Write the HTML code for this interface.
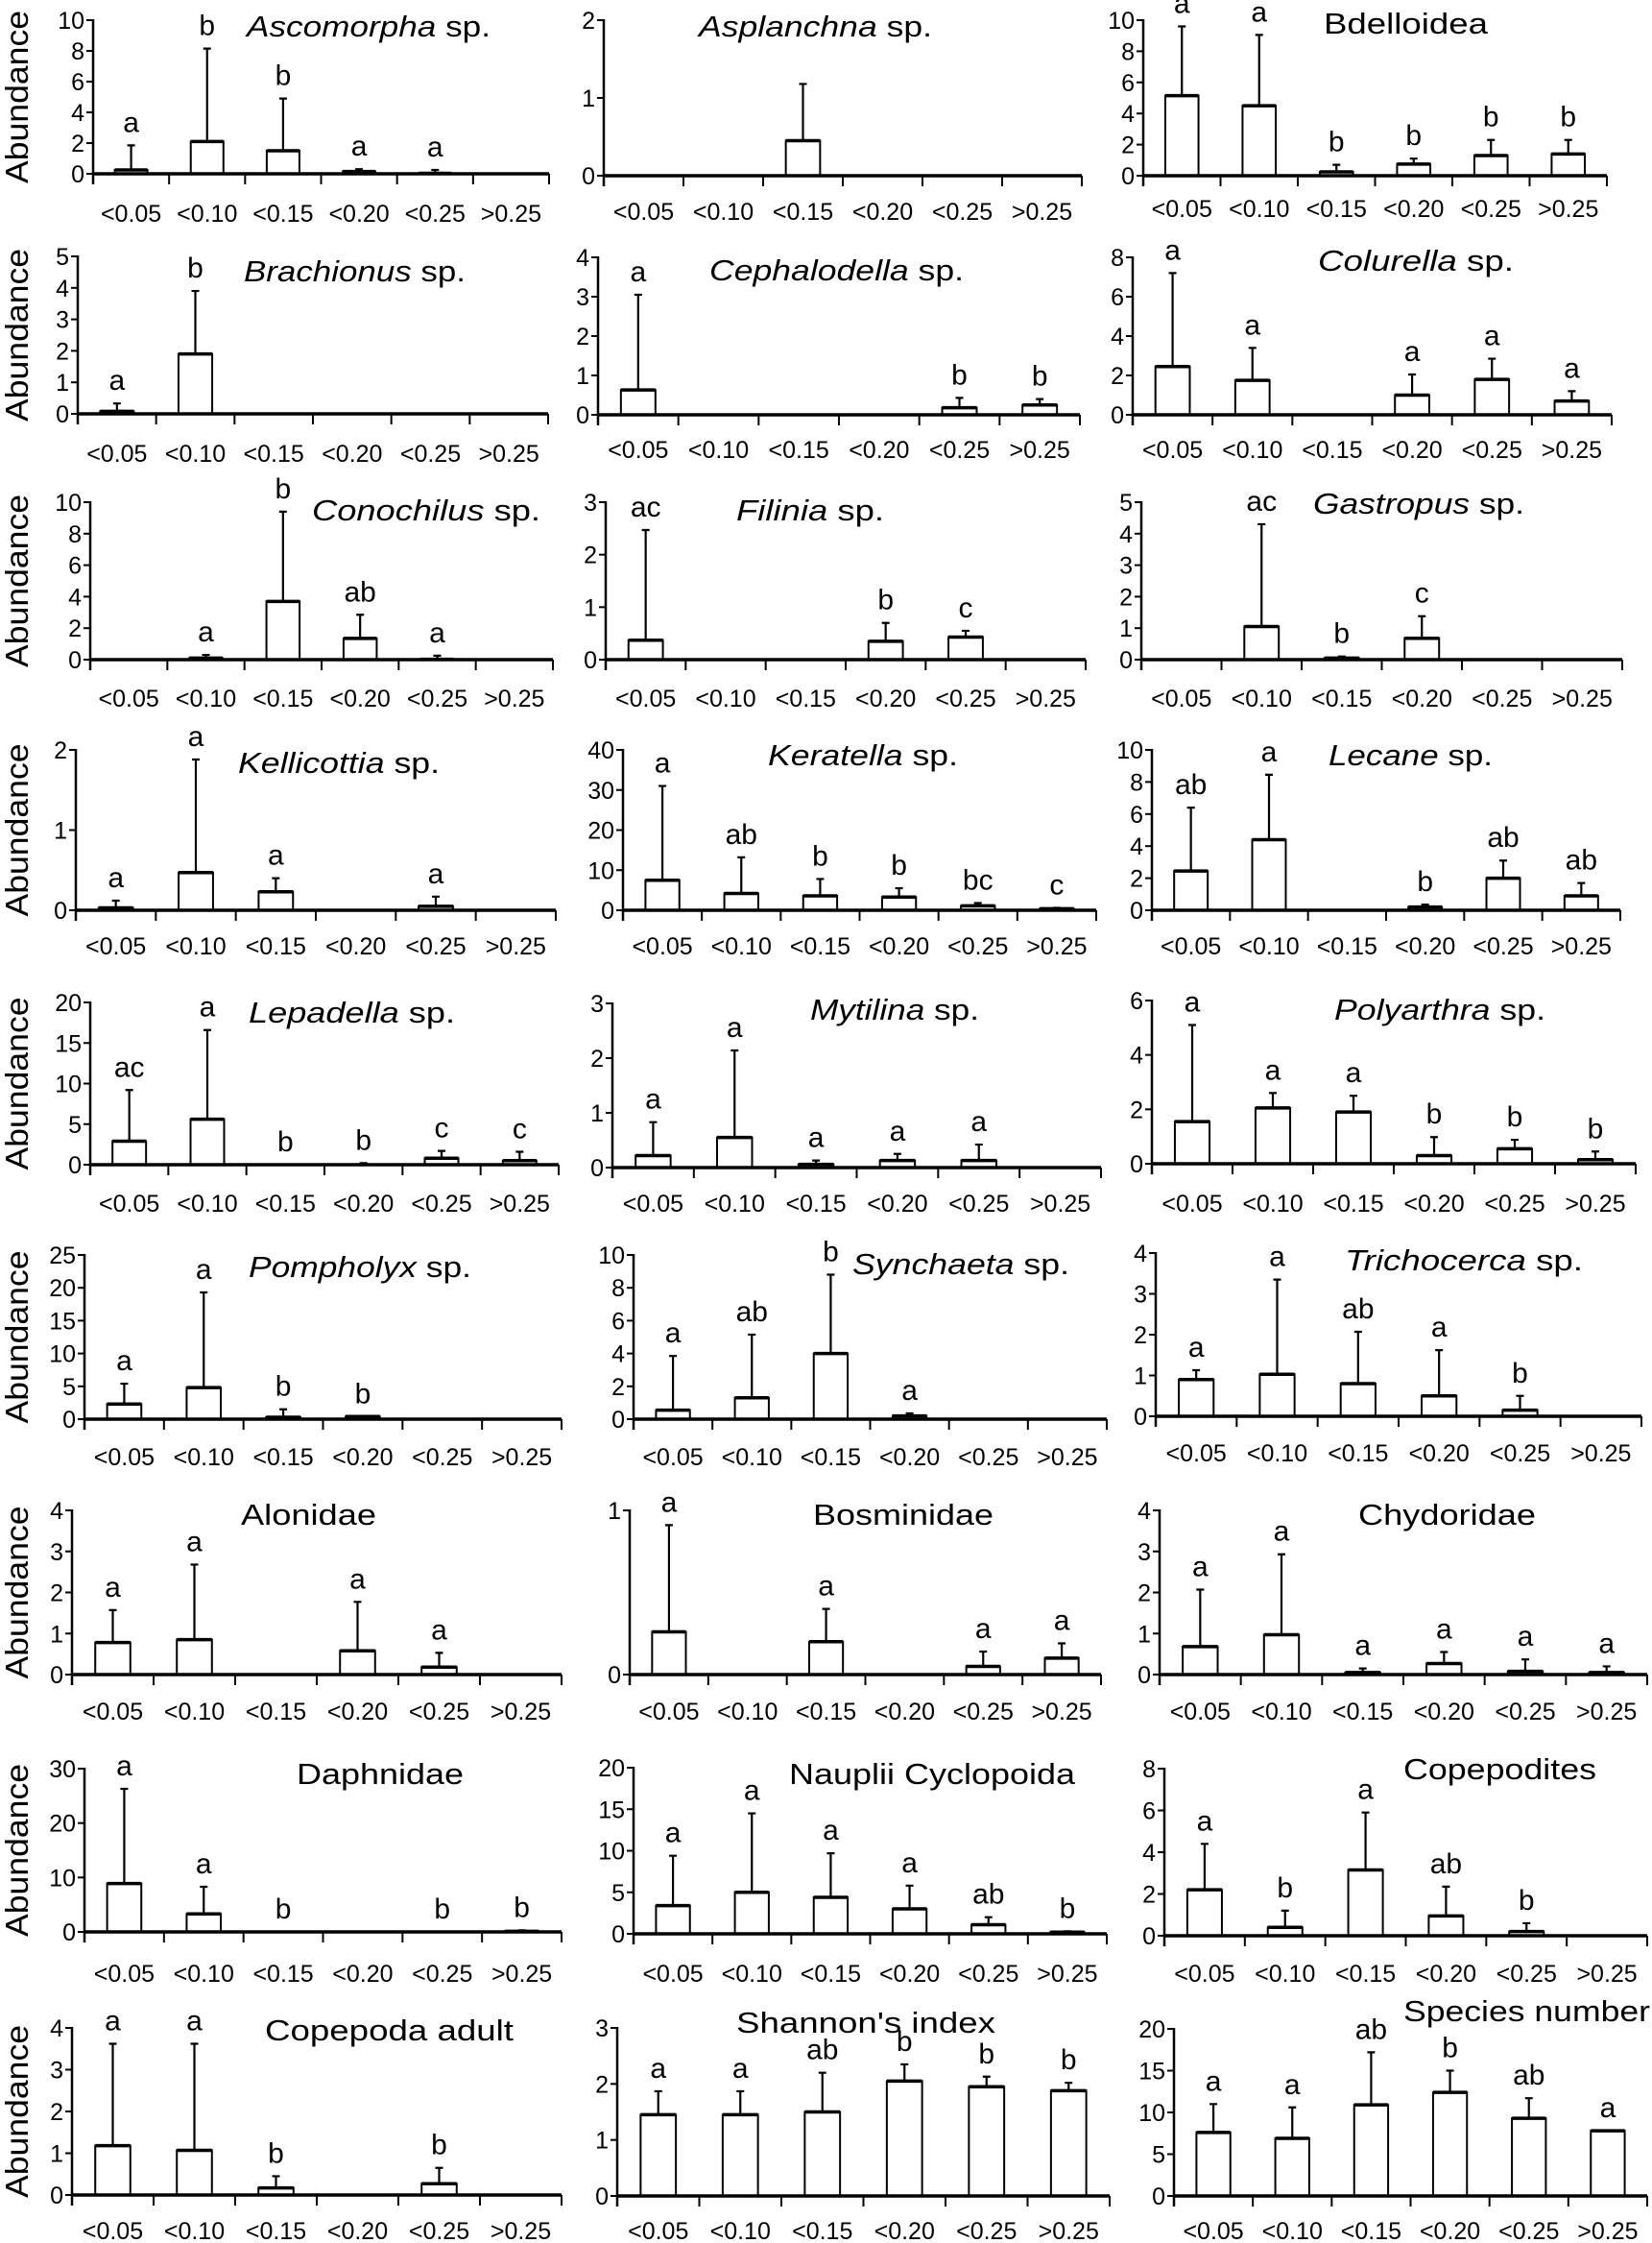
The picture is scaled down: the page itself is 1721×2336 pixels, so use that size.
<!DOCTYPE html>
<html><head><meta charset="utf-8"><style>
html,body{margin:0;padding:0;background:#fff;}
svg{display:block;}
text{font-family:"Liberation Sans",Arial,sans-serif;fill:#000;}
</style></head><body>
<svg id="fig" width="1721" height="2336" viewBox="0 0 1721 2336" xmlns="http://www.w3.org/2000/svg"></svg>
<script>
const categories = ["<0.05","<0.10","<0.15","<0.20","<0.25",">0.25"];
const panelTitles = [
 ["Ascomorpha"," sp."],["Asplanchna"," sp."],["","Bdelloidea"],
 ["Brachionus"," sp."],["Cephalodella"," sp."],["Colurella"," sp."],
 ["Conochilus"," sp."],["Filinia"," sp."],["Gastropus"," sp."],
 ["Kellicottia"," sp."],["Keratella"," sp."],["Lecane"," sp."],
 ["Lepadella"," sp."],["Mytilina"," sp."],["Polyarthra"," sp."],
 ["Pompholyx"," sp."],["Synchaeta"," sp."],["Trichocerca"," sp."],
 ["","Alonidae"],["","Bosminidae"],["","Chydoridae"],
 ["","Daphnidae"],["","Nauplii Cyclopoida"],["","Copepodites"],
 ["","Copepoda adult"],["","Shannon's index"],["","Species number"]
];
const yMax  = [10,2,10, 5,4,8, 10,3,5, 2,40,10, 20,3,6, 25,10,4, 4,1,4, 30,20,8, 4,3,20];
const yStep = [2,1,2, 1,1,2, 2,1,1, 1,10,2, 5,1,2, 5,2,1, 1,1,1, 10,5,2, 1,1,5];
const panelMeans = [
 [0.25,2.1,1.5,0.15,0.03,0],[0,0,0.45,0,0,0],[5.15,4.5,0.25,0.75,1.3,1.4],
 [0.08,1.9,0,0,0,0],[0.63,0,0,0,0.18,0.25],[2.45,1.75,0,1.0,1.8,0.7],
 [0,0.1,3.7,1.35,0.02,0],[0.37,0,0,0.35,0.43,0],[0,1.05,0.05,0.68,0,0],
 [0.03,0.47,0.23,0,0.05,0],[7.5,4.2,3.6,3.3,1.1,0.4],[2.45,4.4,0,0.2,2.0,0.9],
 [2.9,5.6,0,0,0.8,0.5],[0.22,0.55,0.06,0.13,0.13,0],[1.55,2.05,1.9,0.3,0.55,0.15],
 [2.3,4.8,0.3,0.4,0,0],[0.55,1.3,4.0,0.2,0,0],[0.9,1.03,0.8,0.5,0.15,0],
 [0.78,0.85,0,0.58,0.18,0],[0.26,0,0.2,0,0.05,0.1],[0.68,0.97,0.05,0.27,0.08,0.05],
 [8.9,3.3,0,0,0,0.1],[3.4,5.0,4.4,3.0,1.1,0.2],[2.2,0.4,3.15,0.95,0.2,0],
 [1.18,1.07,0.17,0,0.27,0],[1.45,1.45,1.5,2.05,1.95,1.88],[7.6,6.9,10.9,12.4,9.3,7.8]
];
const panelErrors = [
 [1.85,8.15,4.9,0.3,0.25,0],[0,0,1.18,0,0,0],[9.6,9.05,0.7,1.1,2.3,2.3],
 [0.33,3.9,0,0,0,0],[3.05,0,0,0,0.43,0.4],[7.2,3.4,0,2.05,2.85,1.2],
 [0,0.3,9.4,2.85,0.25,0],[2.47,0,0,0.7,0.55,0],[0,4.3,0.1,1.38,0,0],
 [0.12,1.88,0.4,0,0.17,0],[31,13.2,7.8,5.5,1.8,0.6],[6.4,8.45,0,0.35,3.1,1.7],
 [9.2,16.6,0,0.2,1.7,1.6],[0.83,2.14,0.13,0.25,0.42,0],[5.1,2.6,2.5,0.98,0.88,0.45],
 [5.4,19.3,1.5,0.4,0,0],[3.85,5.15,8.8,0.35,0,0],[1.13,3.35,2.07,1.62,0.5,0],
 [1.57,2.68,0,1.77,0.53,0],[0.91,0,0.4,0,0.14,0.19],[2.07,2.93,0.15,0.55,0.37,0.2],
 [26.3,8.3,0,0,0,0.3],[9.4,14.5,9.7,5.8,2.0,0.3],[4.4,1.2,5.9,2.35,0.6,0],
 [3.62,3.62,0.45,0,0.65,0],[1.87,1.87,2.2,2.35,2.13,2.02],[11,10.6,17.2,15,11.7,7.8]
];
const panelLetters = [
 ["a","b","b","a","a",""],["","","","","",""],["a","a","b","b","b","b"],
 ["a","b","","","",""],["a","","","","b","b"],["a","a","","a","a","a"],
 ["","a","b","ab","a",""],["ac","","","b","c",""],["","ac","b","c","",""],
 ["a","a","a","","a",""],["a","ab","b","b","bc","c"],["ab","a","","b","ab","ab"],
 ["ac","a","b","b","c","c"],["a","a","a","a","a",""],["a","a","a","b","b","b"],
 ["a","a","b","b","",""],["a","ab","b","a","",""],["a","a","ab","a","b",""],
 ["a","a","","a","a",""],["a","","a","","a","a"],["a","a","a","a","a","a"],
 ["a","a","b","","b","b"],["a","a","a","a","ab","b"],["a","b","a","ab","b",""],
 ["a","a","b","","b",""],["a","a","ab","b","b","b"],["a","a","ab","b","ab","a"]
];
// layout (pixel geometry): [axisX, rightX, topY, zeroY, labelBaseY, titleX0, titleX1, titleBaseY]
const layout = [
 [97,572,21,181,231,257,511,38],[629,1127,21,183,229,728,971,38],[1191,1674,21,183,226,1379,1550,35],
 [81,571,267,431,481,254,485,293],[623,1125,268,432,477,739,1004,292],[1180,1679,268,432,477,1373,1577,282],
 [94,576,523,687,736,325,563,542],[631,1131,523,687,736,767,921,542],[1189,1690,523,687,736,1368,1588,535],
 [79,579,781,948,994,248,458,805],[649,1142,781,948,994,800,998,797],[1200,1688,781,948,994,1384,1555,797],
 [94,582,1044,1213,1262,259,474,1065],[638,1147,1045,1216,1262,844,1020,1062],[1200,1704,1042,1212,1262,1390,1610,1062],
 [88,585,1307,1478,1526,259,491,1330],[660,1153,1307,1478,1526,888,1114,1327],[1204,1710,1305,1475,1522,1401,1649,1323],
 [75,585,1573,1744,1791,251,392,1588],[656,1147,1573,1744,1791,847,1035,1588],[1208,1716,1573,1744,1791,1415,1600,1588],
 [88,585,1842,2012,2064,309,483,1858],[660,1153,1841,2014,2064,822,1120,1858],[1213,1716,1842,2016,2064,1462,1663,1853],
 [75,585,2112,2286,2332,276,535,2125],[643,1156,2112,2287,2332,767,1037,2117],[1223,1716,2113,2287,2332,1462,1719,2105]
];
const NS="http://www.w3.org/2000/svg";
const svg=document.getElementById('fig');
function mk(tag,attrs,parent){const e=document.createElementNS(NS,tag);for(const k in attrs)e.setAttribute(k,attrs[k]);(parent||svg).appendChild(e);return e;}

for(let p=0;p<panelTitles.length;p++){
  const [ax,rx,top,zero,lab,tx0,tx1,ty]=layout[p];
  const cw=(rx-ax)/6, bw=cw*0.43;
  const g=mk('g',{});
  
  
  const sy=v=>zero-v/yMax[p]*(zero-top);
  const sx=i=>ax+(i+0.5)*cw;
  for(let v=0;v<=yMax[p]+1e-9;v+=yStep[p]){
    const y=sy(v);
    const t=mk('line',{x1:ax-7,x2:ax,y1:y,y2:y,stroke:'#000','stroke-width':2},g);
    
    
    const tl=mk('text',{x:ax-9,y:y+9,'font-size':25,'text-anchor':'end'},g);
    
    
    tl.textContent=String(Math.round(v*100)/100);
  }
  for(let i=0;i<6;i++){
    const m=panelMeans[p][i], e=panelErrors[p][i], cx=sx(i);
    if(m>0){
      const y=sy(m);
      const r=mk('rect',{x:cx-bw/2,y:y,width:bw,height:zero-y,fill:'#fff',stroke:'#000','stroke-width':2},g);
      
      
      mk('line',{x1:cx-bw/2,x2:cx+bw/2,y1:y,y2:y,stroke:'#000','stroke-width':3.5},g);
    }
    if(e>m){
      const el=mk('path',{d:`M${cx} ${sy(m)}V${sy(e)}M${cx-4} ${sy(e)}H${cx+4}`,stroke:'#000','stroke-width':2.2,fill:'none'},g);
      
      
    }
    const L=panelLetters[p][i];
    if(L){
      const lt=mk('text',{x:cx,y:sy(Math.max(e,m))-14,'font-size':30,'text-anchor':'middle'},g);
      
      
      lt.textContent=L;
    }
  }
  const ya=mk('line',{x1:ax,x2:ax,y1:top-1,y2:zero+11,stroke:'#000','stroke-width':2.5},g);
  
  
  const xa=mk('line',{x1:ax,x2:rx,y1:zero,y2:zero,stroke:'#000','stroke-width':3.5},g);
  
  
  for(let k=0;k<=6;k++){
    const x=ax+k*cw;
    mk('line',{x1:x,x2:x,y1:zero,y2:zero+11,stroke:'#000','stroke-width':2},g);
  }
  for(let i=0;i<6;i++){
    const xl=mk('text',{x:sx(i),y:lab,'font-size':25,'text-anchor':'middle'},g);
    
    
    xl.textContent=categories[i];
  }
  const tt=mk('text',{x:tx0,y:ty,'font-size':31,textLength:tx1-tx0,lengthAdjust:'spacingAndGlyphs'},g);
  
  
  if(panelTitles[p][0]){const it=mk('tspan',{'font-style':'italic'},tt);it.textContent=panelTitles[p][0];}
  const rt=mk('tspan',{},tt);rt.textContent=panelTitles[p][1];
  if(p%3===0){
    const cy=(top+zero)/2;
    const yt=mk('text',{x:0,y:0,'font-size':33,'text-anchor':'middle',textLength:180,lengthAdjust:'spacingAndGlyphs',transform:`translate(29 ${cy}) rotate(-90)`},g);
    
    
    yt.textContent='Abundance';
  }
}
</script>
</body></html>
